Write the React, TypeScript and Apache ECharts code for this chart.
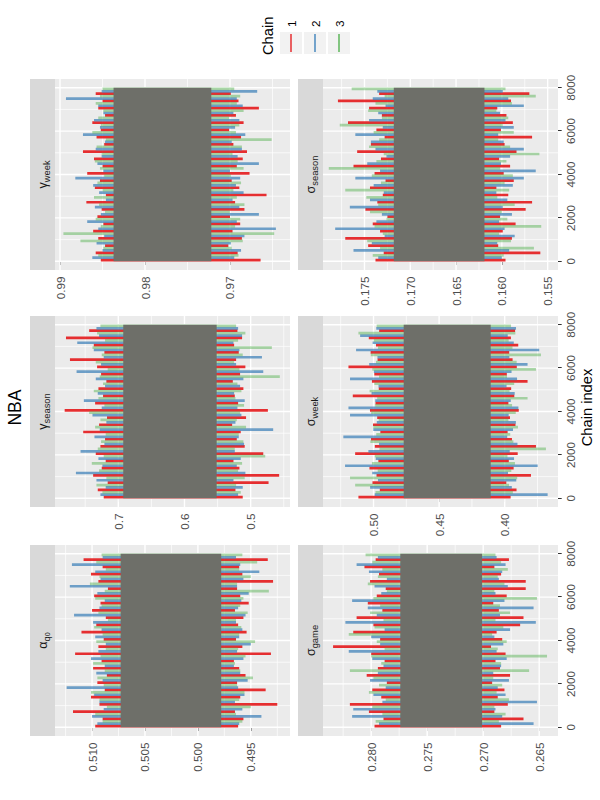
import React, { useEffect, useRef } from "react";
import * as echarts from "echarts";

const FONT = '"Liberation Sans", Arial, Helvetica, sans-serif';

// ---------- chains ----------
const chainNames = ["1", "2", "3"];
const chainColors = ["#E41A1C", "#377EB8", "#4DAF4A"];
const chainAlpha = [0.9, 0.7, 0.45];

// ---------- chain index axis ----------
const iterStart = 0;
const iterEnd = 8000;
const iterRange = [-400, 8400];
const iterTicks = [0, 2000, 4000, 6000, 8000];
const iterMinor = [1000, 3000, 5000, 7000];

// ---------- alpha ----------
const alphaRange = [0.4913, 0.5135];
const alphaTicks = [0.495, 0.5, 0.505, 0.51];
const alphaMinor = [0.4925, 0.4975, 0.5025, 0.5075, 0.5125];
const alphaBand = [0.4978, 0.5073];
const alphaHi1 = [0.5097, 0.509, 0.5118, 0.5093, 0.5101, 0.5088, 0.5095, 0.5086, 0.5099, 0.5091, 0.5116, 0.5094, 0.5089, 0.511, 0.5096, 0.5087, 0.51, 0.5092, 0.5098, 0.5085, 0.5094, 0.5101, 0.509, 0.5108];
const alphaLo1 = [0.4962, 0.4957, 0.4965, 0.4925, 0.496, 0.4936, 0.4963, 0.4955, 0.4961, 0.4966, 0.4931, 0.4958, 0.4964, 0.4954, 0.4962, 0.4957, 0.4965, 0.4952, 0.496, 0.4963, 0.4929, 0.4958, 0.4961, 0.4934];
const alphaHi2 = [0.5095, 0.51, 0.5089, 0.5093, 0.5098, 0.5124, 0.509, 0.5096, 0.5088, 0.5101, 0.5094, 0.5087, 0.5097, 0.5091, 0.5099, 0.5117, 0.5093, 0.5088, 0.5095, 0.5121, 0.5092, 0.5097, 0.5119, 0.509];
const alphaLo2 = [0.4961, 0.494, 0.4958, 0.4965, 0.4956, 0.4962, 0.4953, 0.496, 0.4966, 0.4957, 0.4963, 0.495, 0.4961, 0.4958, 0.4964, 0.4955, 0.4962, 0.4959, 0.4952, 0.4963, 0.4957, 0.4942, 0.496, 0.4964];
const alphaHi3 = [0.509, 0.5097, 0.5086, 0.5093, 0.5101, 0.5089, 0.5095, 0.5088, 0.5099, 0.5092, 0.5087, 0.5096, 0.509, 0.5098, 0.5085, 0.5094, 0.5091, 0.5097, 0.5088, 0.5102, 0.5093, 0.5087, 0.5096, 0.5091];
const alphaLo3 = [0.4958, 0.4964, 0.495, 0.4961, 0.4956, 0.4963, 0.4948, 0.496, 0.4965, 0.4955, 0.4962, 0.4946, 0.4961, 0.4959, 0.4964, 0.4953, 0.496, 0.4957, 0.4933, 0.4963, 0.495, 0.4961, 0.4944, 0.4958];

// ---------- gamma season ----------
const gSeasonRange = [0.4406, 0.7956];
const gSeasonTicks = [0.5, 0.6, 0.7];
const gSeasonMinor = [0.45, 0.55, 0.65, 0.75];
const gSeasonBand = [0.5514, 0.6925];
const gSeasonHi1 = [0.722, 0.731, 0.716, 0.738, 0.725, 0.719, 0.734, 0.727, 0.72, 0.753, 0.729, 0.717, 0.781, 0.735, 0.723, 0.73, 0.718, 0.726, 0.732, 0.773, 0.721, 0.737, 0.779, 0.744];
const gSeasonLo1 = [0.512, 0.523, 0.473, 0.457, 0.517, 0.526, 0.481, 0.509, 0.521, 0.515, 0.528, 0.507, 0.474, 0.519, 0.524, 0.511, 0.527, 0.516, 0.508, 0.522, 0.518, 0.525, 0.513, 0.52];
const gSeasonHi2 = [0.727, 0.719, 0.733, 0.764, 0.724, 0.73, 0.757, 0.721, 0.736, 0.728, 0.718, 0.739, 0.725, 0.752, 0.731, 0.72, 0.734, 0.763, 0.726, 0.722, 0.737, 0.762, 0.729, 0.733];
const gSeasonLo2 = [0.519, 0.512, 0.526, 0.508, 0.521, 0.515, 0.524, 0.51, 0.518, 0.466, 0.523, 0.514, 0.52, 0.509, 0.525, 0.516, 0.511, 0.481, 0.522, 0.483, 0.517, 0.526, 0.513, 0.519];
const gSeasonHi3 = [0.724, 0.733, 0.718, 0.729, 0.74, 0.722, 0.731, 0.726, 0.719, 0.735, 0.727, 0.744, 0.721, 0.73, 0.737, 0.723, 0.728, 0.716, 0.734, 0.725, 0.739, 0.72, 0.732, 0.727];
const gSeasonLo3 = [0.515, 0.522, 0.509, 0.519, 0.513, 0.478, 0.524, 0.511, 0.518, 0.507, 0.521, 0.516, 0.51, 0.523, 0.514, 0.52, 0.456, 0.517, 0.525, 0.512, 0.468, 0.519, 0.508, 0.522];

// ---------- gamma week ----------
const gWeekRange = [0.96294, 0.99059];
const gWeekTicks = [0.97, 0.98, 0.99];
const gWeekMinor = [0.965, 0.975, 0.985];
const gWeekBand = [0.9722, 0.9837];
const gWeekHi1 = [0.9852, 0.9858, 0.9847, 0.9855, 0.9861, 0.9849, 0.9856, 0.9851, 0.9869, 0.9846, 0.9859, 0.9853, 0.9868, 0.985, 0.986, 0.9873, 0.9848, 0.9857, 0.9852, 0.9862, 0.9847, 0.9855, 0.985, 0.9858];
const gWeekLo1 = [0.9664, 0.9691, 0.9702, 0.9686, 0.9697, 0.9688, 0.97, 0.9683, 0.9694, 0.9657, 0.9689, 0.9698, 0.9677, 0.9692, 0.9685, 0.968, 0.9696, 0.9687, 0.9701, 0.9684, 0.9693, 0.9666, 0.969, 0.9699];
const gWeekHi2 = [0.9862, 0.985, 0.9857, 0.9848, 0.9855, 0.9868, 0.9852, 0.9859, 0.9846, 0.9854, 0.9861, 0.9882, 0.9849, 0.9856, 0.9851, 0.9858, 0.9847, 0.9873, 0.9853, 0.986, 0.9849, 0.9855, 0.9893, 0.9851];
const gWeekLo2 = [0.9695, 0.9687, 0.9699, 0.9683, 0.9646, 0.9692, 0.9666, 0.9689, 0.9697, 0.9684, 0.9693, 0.9688, 0.97, 0.9666, 0.9691, 0.9686, 0.9698, 0.9682, 0.9694, 0.9689, 0.9696, 0.9685, 0.9692, 0.9668];
const gWeekHi3 = [0.9855, 0.9849, 0.9876, 0.9896, 0.9852, 0.9858, 0.9847, 0.9854, 0.986, 0.985, 0.9856, 0.9848, 0.9853, 0.9859, 0.9851, 0.9857, 0.9846, 0.9862, 0.9852, 0.9855, 0.9849, 0.9858, 0.9853, 0.985];
const gWeekLo3 = [0.969, 0.9698, 0.9685, 0.9648, 0.9694, 0.9688, 0.97, 0.9683, 0.9692, 0.9696, 0.9687, 0.9699, 0.9684, 0.9691, 0.9697, 0.9686, 0.9651, 0.9693, 0.9689, 0.9701, 0.9684, 0.9692, 0.9688, 0.9695];

// ---------- sigma game ----------
const sGameRange = [0.26332, 0.2843];
const sGameTicks = [0.265, 0.27, 0.275, 0.28];
const sGameMinor = [0.2675, 0.2725, 0.2775, 0.2825];
const sGameBand = [0.2701, 0.2774];
const sGameHi1 = [0.2797, 0.2789, 0.2802, 0.2819, 0.2791, 0.2799, 0.2786, 0.2804, 0.2794, 0.2788, 0.28, 0.2834, 0.2792, 0.2816, 0.2798, 0.2813, 0.279, 0.2803, 0.2795, 0.2787, 0.2801, 0.2793, 0.2806, 0.2796];
const sGameLo1 = [0.2684, 0.2664, 0.269, 0.2678, 0.2687, 0.2681, 0.2692, 0.2676, 0.2685, 0.2689, 0.268, 0.2693, 0.2683, 0.2688, 0.2667, 0.2664, 0.2686, 0.2691, 0.2679, 0.2662, 0.2662, 0.2684, 0.269, 0.2677];
const sGameHi2 = [0.2793, 0.2817, 0.2816, 0.279, 0.2798, 0.2787, 0.2801, 0.2794, 0.2789, 0.2799, 0.282, 0.2792, 0.28, 0.2788, 0.2823, 0.2795, 0.2803, 0.2817, 0.2791, 0.2797, 0.2786, 0.2802, 0.2813, 0.2794];
const sGameLo2 = [0.2655, 0.2683, 0.2689, 0.2652, 0.268, 0.2687, 0.2677, 0.2691, 0.2684, 0.2679, 0.2688, 0.2682, 0.269, 0.2676, 0.2653, 0.2685, 0.2655, 0.2681, 0.2689, 0.2678, 0.2686, 0.2683, 0.268, 0.2688];
const sGameHi3 = [0.2796, 0.279, 0.2799, 0.2787, 0.2802, 0.2793, 0.2798, 0.2819, 0.2791, 0.28, 0.2788, 0.2795, 0.282, 0.2797, 0.2789, 0.2801, 0.2792, 0.2798, 0.2786, 0.2803, 0.2794, 0.279, 0.2799, 0.2805];
const sGameLo3 = [0.2686, 0.268, 0.269, 0.2677, 0.2688, 0.2683, 0.2691, 0.2659, 0.2684, 0.2643, 0.2687, 0.2679, 0.2692, 0.2682, 0.2689, 0.2676, 0.2685, 0.2652, 0.269, 0.2681, 0.2687, 0.2678, 0.2684, 0.2689];

// ---------- sigma week ----------
const sWeekRange = [0.3594, 0.5385];
const sWeekTicks = [0.4, 0.45, 0.5];
const sWeekMinor = [0.375, 0.425, 0.475, 0.525];
const sWeekBand = [0.4107, 0.477];
const sWeekHi1 = [0.5115, 0.4952, 0.5008, 0.4977, 0.5031, 0.4963, 0.514, 0.499, 0.5019, 0.4948, 0.5004, 0.4972, 0.5027, 0.4985, 0.5158, 0.496, 0.5012, 0.4994, 0.5191, 0.4969, 0.5022, 0.4981, 0.5036, 0.4957];
const sWeekLo1 = [0.3955, 0.391, 0.3988, 0.38, 0.3932, 0.3969, 0.3901, 0.3762, 0.3945, 0.3978, 0.3918, 0.396, 0.3893, 0.3972, 0.3927, 0.3951, 0.3826, 0.3984, 0.3908, 0.394, 0.3966, 0.3897, 0.3953, 0.3921];
const sWeekHi2 = [0.4991, 0.5026, 0.4966, 0.501, 0.5217, 0.4983, 0.5039, 0.4958, 0.523, 0.5002, 0.4975, 0.5179, 0.5191, 0.4987, 0.5015, 0.4962, 0.5179, 0.4998, 0.5033, 0.497, 0.5133, 0.5007, 0.5102, 0.4979];
const sWeekLo2 = [0.3673, 0.3946, 0.3912, 0.3975, 0.3749, 0.3929, 0.3962, 0.3903, 0.3981, 0.3937, 0.3915, 0.397, 0.3896, 0.3954, 0.3924, 0.3986, 0.3906, 0.3948, 0.3826, 0.3965, 0.3737, 0.3931, 0.3977, 0.3914];
const sWeekHi3 = [0.4985, 0.514, 0.5179, 0.4968, 0.5012, 0.499, 0.4955, 0.5024, 0.4979, 0.5003, 0.4961, 0.5018, 0.4987, 0.4972, 0.503, 0.4994, 0.4958, 0.5009, 0.4981, 0.5021, 0.4966, 0.4999, 0.5115, 0.4976];
const sWeekLo3 = [0.3938, 0.3967, 0.3905, 0.395, 0.3922, 0.3979, 0.3686, 0.3934, 0.3958, 0.3899, 0.3972, 0.3916, 0.3944, 0.3826, 0.3963, 0.3928, 0.3983, 0.3762, 0.3909, 0.3724, 0.3941, 0.397, 0.3919, 0.3952];

// ---------- sigma season ----------
const sSeasonRange = [0.15387, 0.17953];
const sSeasonTicks = [0.155, 0.16, 0.165, 0.17, 0.175];
const sSeasonMinor = [0.1575, 0.1625, 0.1675, 0.1725, 0.1775];
const sSeasonBand = [0.1619, 0.1718];
const sSeasonHi1 = [0.1738, 0.1729, 0.1746, 0.1771, 0.1733, 0.1741, 0.1725, 0.1749, 0.1736, 0.173, 0.1744, 0.1727, 0.1739, 0.1762, 0.1732, 0.1758, 0.1743, 0.1728, 0.1737, 0.1768, 0.1731, 0.1745, 0.1779, 0.1734];
const sSeasonLo1 = [0.1596, 0.1558, 0.1604, 0.1589, 0.1599, 0.1585, 0.1602, 0.1574, 0.1567, 0.1593, 0.1606, 0.1587, 0.1598, 0.1591, 0.1603, 0.1584, 0.1597, 0.1567, 0.1601, 0.1588, 0.1595, 0.1605, 0.159, 0.157];
const sSeasonHi2 = [0.1735, 0.1762, 0.1742, 0.1728, 0.1782, 0.1737, 0.1731, 0.1766, 0.1744, 0.1729, 0.174, 0.176, 0.1733, 0.1747, 0.1726, 0.1738, 0.1743, 0.176, 0.173, 0.1745, 0.1735, 0.1727, 0.1741, 0.1736];
const sSeasonLo2 = [0.16, 0.1592, 0.1605, 0.1586, 0.1597, 0.1603, 0.1589, 0.1599, 0.1594, 0.1606, 0.1588, 0.1576, 0.1563, 0.1601, 0.1591, 0.1576, 0.1598, 0.1604, 0.1587, 0.1596, 0.1602, 0.1576, 0.1593, 0.1599];
const sSeasonHi3 = [0.1741, 0.1733, 0.1747, 0.173, 0.1739, 0.1726, 0.1744, 0.1735, 0.1748, 0.1771, 0.1732, 0.1742, 0.1789, 0.1737, 0.1729, 0.1745, 0.1734, 0.174, 0.1777, 0.1731, 0.1746, 0.1738, 0.1728, 0.1764];
const sSeasonLo3 = [0.1598, 0.1565, 0.159, 0.1603, 0.1557, 0.1594, 0.16, 0.1586, 0.1605, 0.1592, 0.1597, 0.1588, 0.1602, 0.1595, 0.1559, 0.1591, 0.1604, 0.1587, 0.1599, 0.1593, 0.1606, 0.1589, 0.1563, 0.1596];

// ---------- texts ----------
const titleText = "NBA";
const xTitleText = "Chain index";
const legendTitle = "Chain";
const stripLabels = [
  "{m|α}{s|q}{ss|0}",
  "{m|γ}{s|season}",
  "{m|γ}{s|week}",
  "{m|σ}{s|game}",
  "{m|σ}{s|week}",
  "{m|σ}{s|season}",
];

const panels = [
  { range: alphaRange, ticks: alphaTicks, minor: alphaMinor, dec: 3, band: alphaBand, hi: [alphaHi1, alphaHi2, alphaHi3], lo: [alphaLo1, alphaLo2, alphaLo3] },
  { range: gSeasonRange, ticks: gSeasonTicks, minor: gSeasonMinor, dec: 1, band: gSeasonBand, hi: [gSeasonHi1, gSeasonHi2, gSeasonHi3], lo: [gSeasonLo1, gSeasonLo2, gSeasonLo3] },
  { range: gWeekRange, ticks: gWeekTicks, minor: gWeekMinor, dec: 2, band: gWeekBand, hi: [gWeekHi1, gWeekHi2, gWeekHi3], lo: [gWeekLo1, gWeekLo2, gWeekLo3] },
  { range: sGameRange, ticks: sGameTicks, minor: sGameMinor, dec: 3, band: sGameBand, hi: [sGameHi1, sGameHi2, sGameHi3], lo: [sGameLo1, sGameLo2, sGameLo3] },
  { range: sWeekRange, ticks: sWeekTicks, minor: sWeekMinor, dec: 2, band: sWeekBand, hi: [sWeekHi1, sWeekHi2, sWeekHi3], lo: [sWeekLo1, sWeekLo2, sWeekLo3] },
  { range: sSeasonRange, ticks: sSeasonTicks, minor: sSeasonMinor, dec: 3, band: sSeasonBand, hi: [sSeasonHi1, sSeasonHi2, sSeasonHi3], lo: [sSeasonLo1, sSeasonLo2, sSeasonLo3] },
];

// ---------- layout (original landscape 800 x 600, then rotated) ----------
const colLeft = [64, 293, 530];
const panelW = 191;
const rowTop = [55, 323];
const panelH = 235;
const stripH = 25;

function hLine(lw: number) {
  return (params: any, api: any) => {
    const cs = params.coordSys;
    const y = api.coord([api.value(0), api.value(1)])[1];
    return { type: "line", shape: { x1: cs.x, y1: y, x2: cs.x + cs.width, y2: y }, style: { stroke: "#ffffff", lineWidth: lw } };
  };
}
function vLine(lw: number) {
  return (params: any, api: any) => {
    const cs = params.coordSys;
    const x = api.coord([api.value(0), api.value(1)])[0];
    return { type: "line", shape: { x1: x, y1: cs.y, x2: x, y2: cs.y + cs.height }, style: { stroke: "#ffffff", lineWidth: lw } };
  };
}

function buildOption() {
  const grid: any[] = [];
  const xAxis: any[] = [];
  const yAxis: any[] = [];
  const series: any[] = [];
  const graphic: any[] = [];

  panels.forEach((p, k) => {
    const col = k % 3;
    const row = Math.floor(k / 3);
    const left = colLeft[col];
    const top = rowTop[row];
    grid.push({ left, top, width: panelW, height: panelH, show: true, backgroundColor: "#ebebeb", borderWidth: 0, containLabel: false });
    const bottomRow = row === 1;
    xAxis.push({
      type: "value",
      gridIndex: k,
      min: iterRange[0],
      max: iterRange[1],
      show: true,
      axisLine: { show: false },
      splitLine: { show: false },
      axisTick: { show: bottomRow, customValues: iterTicks, length: 3.7, lineStyle: { color: "#333333", width: 1 } },
      axisLabel: { show: bottomRow, customValues: iterTicks, color: "#4d4d4d", fontSize: 11.7, fontFamily: FONT, margin: 6.6, formatter: (v: number) => String(Math.round(v)) },
    });
    yAxis.push({
      type: "value",
      gridIndex: k,
      min: p.range[0],
      max: p.range[1],
      axisLine: { show: false },
      splitLine: { show: false },
      axisTick: { show: true, customValues: p.ticks, length: 3.7, lineStyle: { color: "#333333", width: 1 } },
      axisLabel: { show: true, customValues: p.ticks, color: "#4d4d4d", fontSize: 11.7, fontFamily: FONT, margin: 6.6, formatter: (v: number) => v.toFixed(p.dec) },
    });
    const mid = (p.range[0] + p.range[1]) / 2;
    const base = { type: "custom", coordinateSystem: "cartesian2d", xAxisIndex: k, yAxisIndex: k, silent: true };
    series.push({ ...base, z: 1, renderItem: hLine(0.7), data: p.minor.map((v) => [iterStart, v]) });
    series.push({ ...base, z: 1, renderItem: vLine(0.7), data: iterMinor.map((v) => [v, mid]) });
    series.push({ ...base, z: 1, renderItem: hLine(1.4), data: p.ticks.map((v) => [iterStart, v]) });
    series.push({ ...base, z: 1, renderItem: vLine(1.4), data: iterTicks.map((v) => [v, mid]) });

    p.hi.forEach((hiArr, c) => {
      const n = hiArr.length;
      const w = (iterEnd - iterStart) / n;
      const color = echarts.color.modifyAlpha(chainColors[c], chainAlpha[c]);
      series.push({
        ...base,
        z: 2 + c,
        encode: { x: 0, y: [1, 2] },
        data: hiArr.map((h, i) => [iterStart + i * w + ((c + 0.5) * w) / 3, p.lo[c][i], h]),
        renderItem: (params: any, api: any) => {
          const a = api.coord([api.value(0), api.value(1)]);
          const b = api.coord([api.value(0), api.value(2)]);
          return { type: "line", shape: { x1: a[0], y1: a[1], x2: b[0], y2: b[1] }, style: { stroke: color, lineWidth: 2.7 } };
        },
      });
    });

    series.push({
      ...base,
      z: 6,
      data: [[iterStart, p.band[0], iterEnd, p.band[1]]],
      renderItem: (params: any, api: any) => {
        const a = api.coord([api.value(0), api.value(3)]);
        const b = api.coord([api.value(2), api.value(1)]);
        return { type: "rect", shape: { x: a[0], y: a[1], width: b[0] - a[0], height: b[1] - a[1] }, style: { fill: "#6e6f69" } };
      },
    });

    // strip
    graphic.push({ type: "rect", silent: true, shape: { x: left, y: top - stripH, width: panelW, height: stripH }, style: { fill: "#d9d9d9" } });
    graphic.push({
      type: "text",
      silent: true,
      x: left + panelW / 2,
      y: top - stripH / 2,
      style: {
        text: stripLabels[k],
        align: "center",
        verticalAlign: "middle",
        textAlign: "center",
        textVerticalAlign: "middle",
        fill: "#1a1a1a",
        fontFamily: FONT,
        fontSize: 11.7,
        rich: {
          m: { fontSize: 12.5, fontFamily: FONT, fill: "#1a1a1a", color: "#1a1a1a", lineHeight: 16, verticalAlign: "middle" },
          s: { fontSize: 9.4, fontFamily: FONT, fill: "#1a1a1a", color: "#1a1a1a", lineHeight: 8, verticalAlign: "bottom" },
          ss: { fontSize: 7.2, fontFamily: FONT, fill: "#1a1a1a", color: "#1a1a1a", lineHeight: 3, verticalAlign: "bottom" },
        },
      },
    });
  });

  const plotCenter = (colLeft[0] + colLeft[2] + panelW) / 2;
  graphic.push({
    type: "text", silent: true, x: plotCenter, y: 15,
    style: { text: titleText, align: "center", verticalAlign: "middle", textAlign: "center", textVerticalAlign: "middle", fill: "#000", fontFamily: FONT, fontSize: 17.6 },
  });
  graphic.push({
    type: "text", silent: true, x: plotCenter, y: 587,
    style: { text: xTitleText, align: "center", verticalAlign: "middle", textAlign: "center", textVerticalAlign: "middle", fill: "#000", fontFamily: FONT, fontSize: 14.7 },
  });

  // legend
  const legX = 746;
  const legTop = 280;
  const keySize = 22;
  const keyStep = 24;
  graphic.push({
    type: "text", silent: true, x: legX - 1, y: 268,
    style: { text: legendTitle, align: "left", verticalAlign: "middle", textAlign: "left", textVerticalAlign: "middle", fill: "#000", fontFamily: FONT, fontSize: 14.7 },
  });
  chainNames.forEach((name, c) => {
    const y = legTop + c * keyStep;
    graphic.push({ type: "rect", silent: true, shape: { x: legX, y, width: keySize, height: keySize }, style: { fill: "#f2f2f2" } });
    graphic.push({
      type: "line", silent: true,
      shape: { x1: legX + 2, y1: y + keySize / 2, x2: legX + keySize - 2, y2: y + keySize / 2 },
      style: { stroke: echarts.color.modifyAlpha(chainColors[c], 0.85), lineWidth: 1.6 },
    });
    graphic.push({
      type: "text", silent: true, x: legX + keySize + 5, y: y + keySize / 2,
      style: { text: name, align: "left", verticalAlign: "middle", textAlign: "left", textVerticalAlign: "middle", fill: "#000", fontFamily: FONT, fontSize: 11.7 },
    });
  });

  return {
    animation: false,
    backgroundColor: "#ffffff",
    textStyle: { fontFamily: FONT },
    grid,
    xAxis,
    yAxis,
    series,
    graphic,
  };
}

export default function App() {
  const ref = useRef<HTMLDivElement>(null);
  useEffect(() => {
    document.body.style.margin = "0";
    const chart = echarts.init(ref.current as HTMLDivElement, undefined, { renderer: "svg" });
    chart.setOption(buildOption() as any);
    return () => chart.dispose();
  }, []);
  return (
    <div style={{ position: "fixed", left: 0, top: 0, width: 600, height: 800, overflow: "hidden", background: "#ffffff" }}>
      <div
        ref={ref}
        style={{
          position: "absolute",
          left: 0,
          top: 0,
          width: 800,
          height: 600,
          transformOrigin: "0 0",
          transform: "translate(0px, 800px) rotate(-90deg)",
        }}
      />
    </div>
  );
}
